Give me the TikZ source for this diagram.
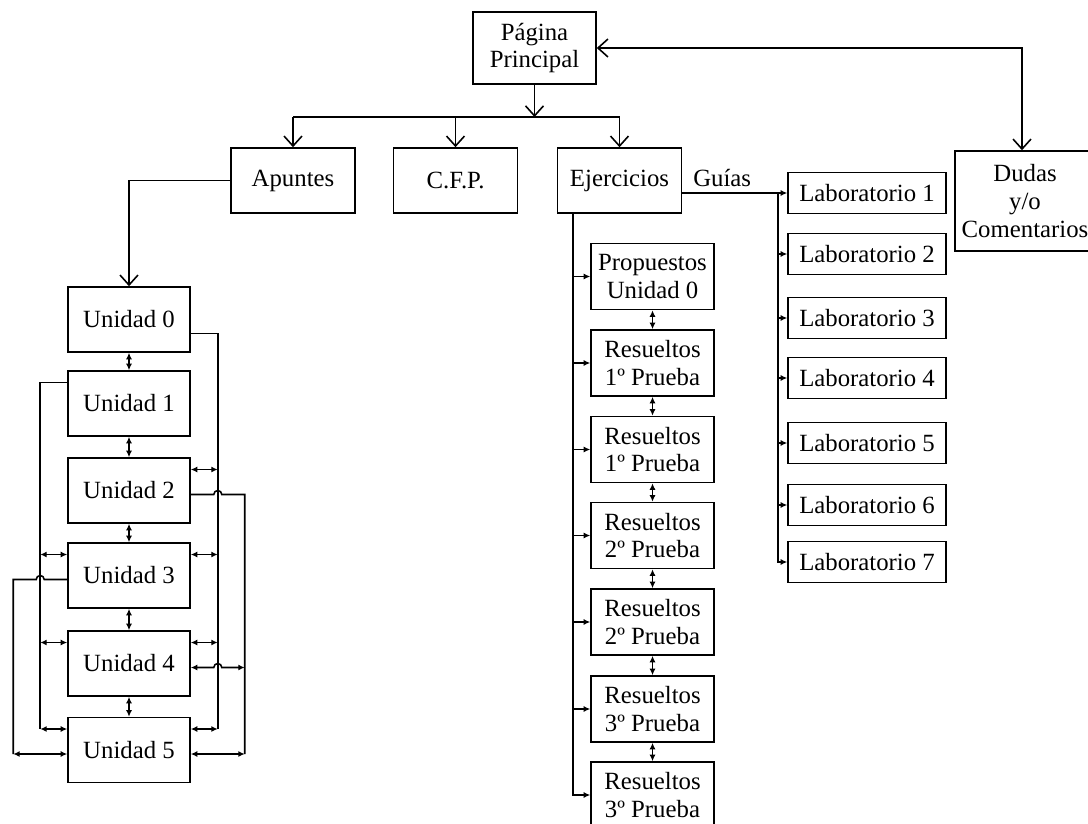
\documentclass[tikz,border=0pt]{standalone}
\usepackage{fontspec}
\setmainfont{Liberation Serif}
\usepackage{tikz}
\usetikzlibrary{arrows.meta,calc}

\begin{document}
\begin{tikzpicture}[x=0.02cm,y=-0.02cm,line width=0.9pt,
  font=\fontsize{14.1}{15.9}\selectfont,
  caja/.style={draw,inner sep=1pt,align=center},
  menu/.style={caja,minimum width=2.48cm,minimum height=1.3cm},
  unidad/.style={caja,minimum width=2.44cm,minimum height=1.3cm},
  ejer/.style={caja,minimum width=2.46cm,minimum height=1.32cm},
  lab/.style={caja,minimum width=3.16cm,minimum height=0.82cm},
  abierta/.style={-{Straight Barb[length=2mm,width=3.6mm]}},
  dosabierta/.style={{Straight Barb[length=2mm,width=3.6mm]}-{Straight Barb[length=2mm,width=3.6mm]}},
  flecha/.style={-{Latex[length=1.3mm,width=1.2mm]}},
  doble/.style={{Latex[length=1.3mm,width=1.2mm]}-{Latex[length=1.3mm,width=1.2mm]}}]
  \useasboundingbox (0,0) rectangle (1088,824);
  \draw (534.5,48) node[caja,minimum width=2.46cm,minimum height=1.44cm] (pag) {Página\\Principal}
   (293,180.5) node[menu] (apu) {Apuntes}
   (455.5,180.5) node[menu] (cfp) {C.F.P.}
   (619.5,180.5) node[menu] (eje) {Ejercicios}
   (1025,201) node[caja,minimum width=2.8cm,minimum height=2cm] (dud) {Dudas\\y/o\\Comentarios};
  \foreach \i/\y in {0/319.5,1/403.5,2/490.5,3/575.5,4/663.5,5/750}
    \node[unidad] (u\i) at (129,\y) {Unidad \i};
  \foreach \i/\y/\t in {0/276.5/{Propuestos\\Unidad 0},1/363/{Resueltos\\1º Prueba},
      2/449.5/{Resueltos\\1º Prueba},3/535.5/{Resueltos\\2º Prueba},4/622/{Resueltos\\2º Prueba},
      5/709/{Resueltos\\3º Prueba},6/795/{Resueltos\\3º Prueba}}
    \node[ejer] (e\i) at (652.5,\y) {\t};
  \foreach \i/\y in {1/193,2/254,3/318,4/378,5/443,6/505,7/562}
    \node[lab] (l\i) at (867,\y) {Laboratorio \i};

  % pagina principal
  \coordinate (barra) at (534.5,117);
  \draw[abierta] (pag) -- (barra);
  \draw (barra -| apu) -- (barra -| eje);
  \foreach \n in {apu,cfp,eje}
    \draw[abierta] (barra -| \n) -- (\n);
  \draw[dosabierta] (pag.east) -| ($(dud.north)+(-3,0)$);
  \draw[abierta] (apu.west) -| (u0.north);

  % unidades
  \foreach \a/\b in {0/1,1/2,2/3,3/4,4/5}
    \draw[doble] (u\a) -- (u\b);
  \draw ($(u0.east)+(0,14)$) -| ($(u5.east)+(27,-21)$);
  \foreach \i in {2,3,4,5}
    \draw[doble] ($(u\i.east)+(0,-21)$) -- ++(27,0);
  \draw ($(u2.east)+(0,4)$) -- ++(23,0) arc[start angle=180,end angle=0,radius=0.08cm]
    -- ++(23,0) -- ($(u5.east)+(54,4)$);
  \draw[doble] ($(u4.east)+(0,4)$) -- ++(23,0) arc[start angle=180,end angle=0,radius=0.08cm] -- ++(23,0);
  \draw[doble] ($(u5.east)+(0,4)$) -- ++(54,0);
  \draw ($(u1.west)+(0,-21)$) -| ($(u5.west)+(-27,-21)$);
  \foreach \i in {3,4,5}
    \draw[doble] ($(u\i.west)+(0,-21)$) -- ++(-27,0);
  \draw ($(u3.west)+(0,4)$) -- ++(-23,0) arc[start angle=0,end angle=180,radius=0.08cm]
    -- ++(-23,0) -- ($(u5.west)+(-54,4)$);
  \draw[doble] ($(u5.west)+(0,4)$) -- ++(-54,0);

  % ejercicios
  \coordinate (eb) at ($(eje.south)+(-46.5,0)$);
  \draw[flecha] (eb) |- (e6.west);
  \foreach \i in {0,...,5}
    \draw[flecha] (eb |- e\i.west) -- (e\i.west);
  \foreach \a/\b in {0/1,1/2,2/3,3/4,4/5,5/6}
    \draw[doble] (e\a) -- (e\b);

  % guias
  \draw[flecha] (eje.east |- l1.west) -- (l1.west) node[pos=0.38,above] {Guías};
  \coordinate (lb) at ($(l1.west)+(-9,0)$);
  \draw[flecha] (lb) |- (l7.west);
  \foreach \i in {2,...,6}
    \draw[flecha] (lb |- l\i.west) -- (l\i.west);
\end{tikzpicture}
\end{document}
